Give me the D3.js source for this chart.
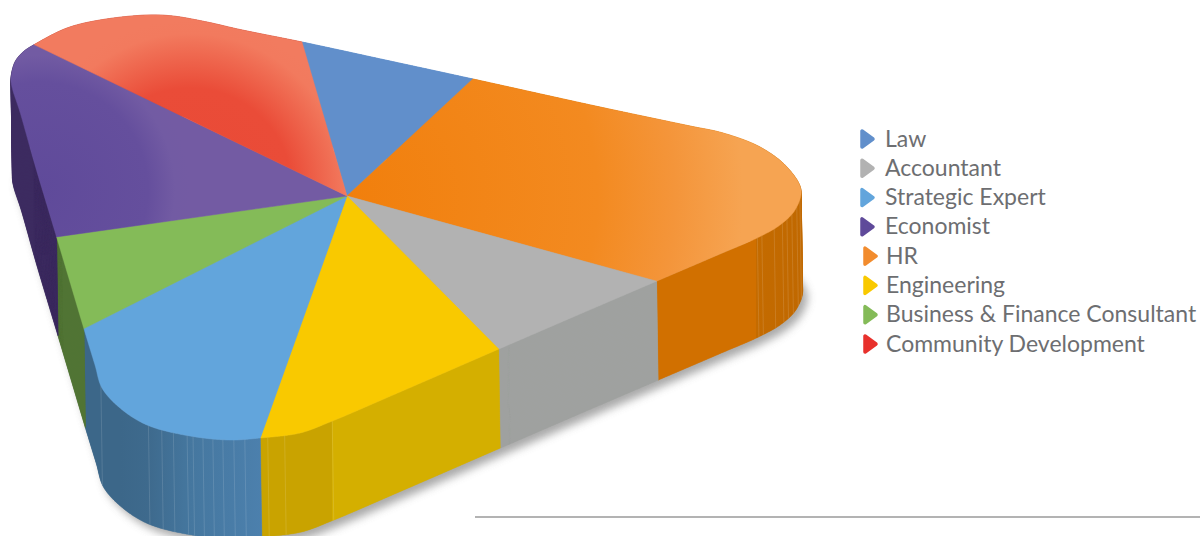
<!DOCTYPE html>
<html><head><meta charset="utf-8">
<script src="https://cdn.jsdelivr.net/npm/d3@7"></script>
<style>html,body{margin:0;padding:0;background:#fff;overflow:hidden}svg{display:block}</style>
</head><body><svg id="c" width="1200" height="536"></svg>
<script>
// Data (share of the pie, %)
const categories = ["Law","Accountant","Strategic Expert","Economist","HR","Engineering","Business & Finance Consultant","Community Development"];
const values     = [17.6, 8.3, 12.1, 9.4, 16.2, 17.9, 5.2, 13.3];
const pieOrder   = ["Law","HR","Accountant","Engineering","Strategic Expert","Business & Finance Consultant","Economist","Community Development"];
const legendColors = ["#618fcb","#b2b2b2","#62a5dc","#5f4a9a","#f28c2e","#f9c900","#84bb58","#e8312c"];
const wallColors = ["#618fcb","#9fa1a0","url(#wBlue)","#3c2c60","url(#wOrange)","url(#wYellow)","#527434","#c0402c"];
const topColors  = ["#618fcb","#b2b2b2","#62a5dc","url(#gPurple)","url(#gOrange)","#f9c900","#84bb58","url(#gRed)"];

// Rounded-triangle rim of the slab, clockwise
const rim = [[37,43],[67,28],[100,20],[147,15],[173,16],[207,22],[240,29.5],[302,42],[390,61],[473,79],[600,107],[690,126],[723,133],[760,147],[787,167],[801,190],[795,210],[780,225],[757,238],[720,254],[657,281],[580,314],[499,349],[400,392],[330,422],[300,433],[260,438],[230,440],[190,436],[147,425],[120,408],[102,388],[95,365],[84,329],[70,282],[56,235],[35,165],[20,112],[12,87],[11,78],[15,62],[23,52]];
const hub = [347,196];
const depth = {dx:1.5, dy:99};
const seamX = [101,148,162,173,187,193,203,213,223,234,245,268,285,332,757,762,774,782,787,792,797,800];

const svg = d3.select("#c");
const defs = svg.append("defs");
function radial(id,cx,cy,r,stops){
  const g = defs.append("radialGradient").attr("id",id).attr("gradientUnits","userSpaceOnUse")
    .attr("cx",cx).attr("cy",cy).attr("r",r);
  stops.forEach(s=>g.append("stop").attr("offset",s[0]).attr("stop-color",s[1]));
}
function linear(id,x1,x2,stops){
  const g = defs.append("linearGradient").attr("id",id).attr("gradientUnits","userSpaceOnUse")
    .attr("x1",x1).attr("x2",x2).attr("y1",0).attr("y2",0);
  stops.forEach(s=>g.append("stop").attr("offset",s[0]).attr("stop-color",s[1]));
}
radial("gOrange",347,196,455,[[0,"#f17f0c"],[.55,"#f38a20"],[.72,"#f4953a"],[.87,"#f6a452"],[1,"#f6a452"]]);
radial("gRed",190,190,170,[[0,"#e94a36"],[.6,"#ea4c38"],[.92,"#f27a5e"],[1,"#f27b5f"]]);
radial("gPurple",40,190,150,[[0,"#5f4a9a"],[.72,"#654f9d"],[.9,"#725ba3"],[1,"#735ba3"]]);
linear("wBlue",120,262,[[0,"#3c6789"],[.2,"#3e6a8d"],[.5,"#45779f"],[1,"#4c80ad"]]);
linear("wYellow",260,500,[[0,"#c9a300"],[.3,"#c9a300"],[.301,"#d4af00"],[1,"#d4af00"]]);
linear("wOrange",657,803,[[0,"#d17000"],[.68,"#d17000"],[.681,"#c46b00"],[1,"#c06800"]]);
defs.append("filter").attr("id","soft").attr("x","-10%").attr("y","-10%").attr("width","120%").attr("height","120%")
  .append("feGaussianBlur").attr("stdDeviation",4.5);

// Sample the rim finely
const rimLine = d3.line().curve(d3.curveCatmullRomClosed.alpha(0.5));
const probe = svg.append("path").attr("d",rimLine(rim)).attr("fill","none").node();
const len = probe.getTotalLength();
const samples = d3.range(0,len,1).map(l=>{const p=probe.getPointAtLength(l);return [p.x,p.y];});
probe.remove();

const valueOf = new Map(categories.map((c,i)=>[c,values[i]]));
const start = -16.3*Math.PI/180;
const arcs = d3.pie().sort(null).startAngle(start).endAngle(start+2*Math.PI)(pieOrder.map(c=>valueOf.get(c)));
const tau = 2*Math.PI;
const angleOf = p => {
  let a = Math.atan2(p[0]-hub[0], hub[1]-p[1]) - start;
  return ((a%tau)+tau)%tau;
};
const polar = samples.map(p=>({p,a:angleOf(p)})).sort((u,v)=>u.a-v.a);
function rimAt(a){
  const i = d3.bisector(d=>d.a).left(polar,a);
  const u = polar[(i-1+polar.length)%polar.length], v = polar[i%polar.length];
  let span = v.a-u.a; if(span<0) span+=tau;
  let t = a-u.a; if(t<0) t+=tau;
  const k = span>0 ? t/span : 0;
  return [u.p[0]+(v.p[0]-u.p[0])*k, u.p[1]+(v.p[1]-u.p[1])*k];
}
const slices = arcs.map((d,i)=>{
  const a0=d.startAngle-start, a1=d.endAngle-start;
  const pts=[rimAt(a0),...polar.filter(q=>q.a>a0&&q.a<a1).map(q=>q.p),rimAt(Math.min(a1,tau-1e-6))];
  return {name:pieOrder[i],idx:categories.indexOf(pieOrder[i]),pts};
});
const poly = d3.line().curve(d3.curveLinear);
const low = p=>[p[0]+depth.dx,p[1]+depth.dy];
// wall of a slice: one consistently wound quad per rim step, so that the silhouette folds do not cancel
function wallPath(pts){
  return d3.pairs(pts).map(([a,b])=>{
    const q=[a,b,low(b),low(a)];
    return poly(d3.polygonArea(q)<0?q.reverse():q)+"Z";
  }).join("");
}

// baseline rule
svg.append("line").attr("x1",475).attr("x2",1200).attr("y1",517).attr("y2",517).attr("stroke","#9a9a9a").attr("stroke-width",1.5);

// shadow: blurred silhouette of the slab's underside
svg.append("path").attr("d",rimLine(rim.map(p=>[p[0]+depth.dx+5,p[1]+depth.dy+6])))
  .attr("fill","#949494").attr("opacity",.8).attr("filter","url(#soft)");

// walls
const walls = svg.append("g");
walls.selectAll("path").data(slices).join("path")
  .attr("d",s=>wallPath(s.pts))
  .attr("fill",s=>wallColors[s.idx]).attr("stroke",s=>wallColors[s.idx]).attr("stroke-width",.4);

// faint facets on curved walls
const frontRim = samples.filter(p=>p[1]>hub[1]);
walls.selectAll("line").data(seamX).join("line").each(function(x){
  const p = d3.least(frontRim,q=>Math.abs(q[0]-x));
  d3.select(this).attr("x1",p[0]).attr("y1",p[1]).attr("x2",p[0]+depth.dx).attr("y2",p[1]+depth.dy);
}).attr("stroke","#fff").attr("stroke-opacity",.16).attr("stroke-width",.8);

// top face
svg.append("g").selectAll("path").data(slices).join("path")
  .attr("d",s=>poly([hub,...s.pts])+"Z")
  .attr("fill",s=>topColors[s.idx]).attr("stroke",s=>topColors[s.idx]).attr("stroke-width",.5).attr("stroke-linejoin","round");

// legend
const legendY = d3.scalePoint().domain(categories).range([139,344]);
const legend = svg.append("g").selectAll("g").data(categories).join("g")
  .attr("transform",(c,i)=>`translate(${i<4?860:863},${legendY(c)})`);
legend.append("path").attr("d",d3.line()([[2,-8],[2,8],[13,0]])+"Z")
  .attr("fill",(c,i)=>legendColors[i]).attr("stroke",(c,i)=>legendColors[i])
  .attr("stroke-width",3.5).attr("stroke-linejoin","round");
legend.append("text").text(c=>c).attr("x",(c,i)=>i<4?25:23).attr("y",7.5)
  .attr("font-family","Lato, sans-serif").attr("font-size",23).attr("fill","#6d6e71");
</script></body></html>
